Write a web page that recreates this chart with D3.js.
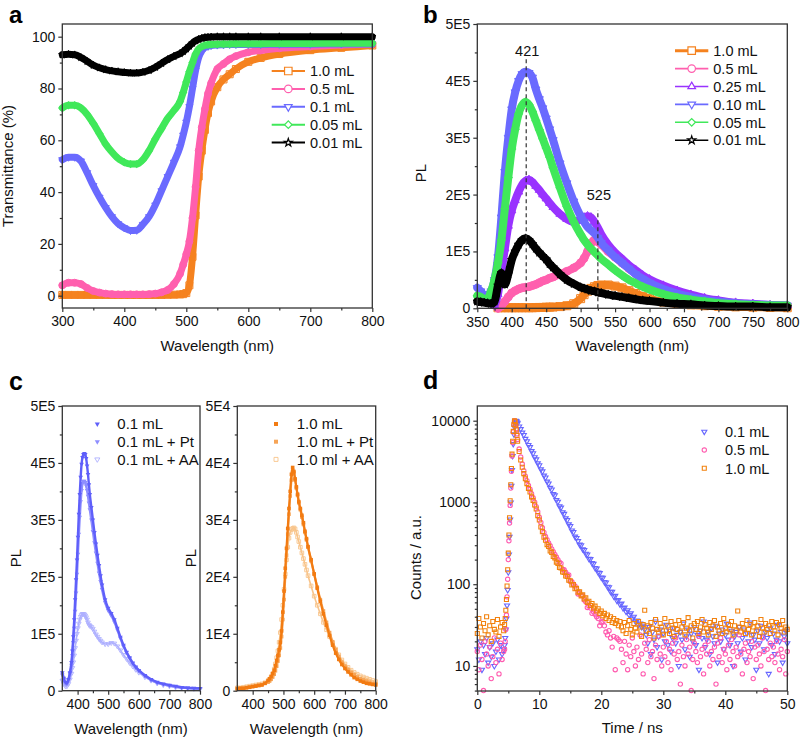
<!DOCTYPE html>
<html><head><meta charset="utf-8">
<script src="https://cdn.jsdelivr.net/npm/d3@7"></script>
<style>body{margin:0;background:#fff}</style>
</head><body>
<svg id="fig" width="800" height="738" xmlns="http://www.w3.org/2000/svg"></svg>
<script>
// ---------------- DATA ----------------
// Panel a : transmittance (%)
const aWavelength = [300,310,320,330,340,350,360,370,380,390,400,410,420,430,440,450,460,470,480,490,495,500,505,510,515,520,525,530,535,540,550,560,570,580,600,620,650,700,750,800];
const aT10  = [0.3,0.3,0.3,0.3,0.3,0.3,0.3,0.3,0.3,0.3,0.3,0.3,0.3,0.3,0.3,0.3,0.3,0.35,0.4,0.5,0.6,1,4,15,31,46,56,64,70.5,75,80.5,83.5,85.5,87.5,90.3,91.8,93.3,94.8,95.7,96.6];
const aT05  = [4,5,5,4.5,3,1.8,1.2,0.8,0.6,0.5,0.5,0.5,0.5,0.5,0.6,0.8,1.3,2.2,4.5,8.5,12,16,21,30,42,56,65,72,78,82,87.5,89.5,91.3,92.5,94,94.7,95.5,96.2,96.8,97.2];
const aT01  = [52.5,53.5,53.5,52,47.5,42.5,38,34,30.5,27.8,26.2,25.2,25.3,27.5,30.5,35,40.5,46,51.5,57.5,62,67,73,80,87,92,94.5,95.8,96.3,96.6,96.8,96.9,97,97,97,97,97.1,97.1,97.2,97.2];
const aT005 = [72.5,73.5,73.5,72.5,70,66.5,62.5,58.5,55.5,53,51.5,50.8,50.8,52.5,56,60.5,64.5,68.5,71.5,75,78.5,82.5,86.5,90,93.3,95.3,96.2,96.7,96.9,97,97.1,97.2,97.2,97.3,97.3,97.3,97.4,97.4,97.5,97.5];
const aT001 = [93,93.2,93,92,90.5,89,88,87.3,86.8,86.5,86.2,86,86,86.3,87,88.2,89.7,91.2,92.4,93.5,94.3,95.3,96.4,97.5,98.4,99,99.4,99.7,99.8,99.9,100,100,100,100,100,100,100,100,100,100];
const aNames = ["1.0 mL","0.5 mL","0.1 mL","0.05 mL","0.01 mL"];

// Panel b : PL (units of 1E5)
const bWavelength = [350,355,360,365,370,375,380,385,390,395,400,405,410,415,420,425,430,435,440,445,450,455,460,470,480,490,500,505,510,515,520,525,530,540,550,560,570,580,590,600,620,640,660,680,700,725,750,775,800];
const bPL10  = [null,null,null,null,null,null,0.01,0.01,0.01,0.01,0.01,0.01,0.01,0.01,0.01,0.01,0.01,0.012,0.015,0.015,0.02,0.02,0.022,0.03,0.045,0.08,0.17,0.24,0.3,0.35,0.38,0.4,0.41,0.41,0.39,0.36,0.31,0.26,0.21,0.17,0.11,0.08,0.06,0.045,0.035,0.025,0.02,0.015,0.01];
const bPL05  = [null,null,null,null,null,null,0.0,0.04,0.12,0.2,0.27,0.31,0.34,0.36,0.37,0.38,0.4,0.42,0.45,0.48,0.5,0.53,0.55,0.6,0.65,0.71,0.8,0.88,1.0,1.14,1.2,1.17,1.12,1.0,0.9,0.8,0.7,0.61,0.53,0.46,0.36,0.28,0.21,0.16,0.12,0.09,0.06,0.05,0.04];
const bPL025 = [null,null,null,null,null,0.05,0.25,0.65,1.05,1.45,1.72,1.9,2.05,2.17,2.24,2.26,2.22,2.15,2.08,2.0,1.93,1.85,1.78,1.66,1.57,1.52,1.56,1.6,1.62,1.6,1.52,1.42,1.3,1.12,0.98,0.87,0.76,0.67,0.58,0.51,0.4,0.31,0.24,0.18,0.14,0.1,0.08,0.06,0.05];
const bPL010 = [0.36,0.3,0.23,0.24,0.3,0.5,0.9,1.6,2.4,3.0,3.5,3.8,4.0,4.12,4.16,4.14,4.06,3.85,3.68,3.52,3.34,3.15,2.96,2.55,2.2,1.88,1.62,1.52,1.43,1.37,1.32,1.24,1.15,1.02,0.9,0.8,0.7,0.6,0.52,0.45,0.34,0.26,0.2,0.15,0.12,0.09,0.07,0.06,0.05];
const bPL005 = [0.22,0.2,0.16,0.18,0.3,0.5,0.8,1.2,1.75,2.3,2.8,3.15,3.42,3.57,3.63,3.58,3.46,3.3,3.14,2.98,2.82,2.66,2.47,2.12,1.79,1.52,1.3,1.2,1.12,1.05,0.99,0.93,0.87,0.77,0.67,0.58,0.5,0.44,0.38,0.33,0.25,0.19,0.15,0.12,0.09,0.07,0.06,0.05,0.05];
const bPL001 = [0.12,0.11,0.1,0.09,0.08,0.12,0.4,0.62,0.42,0.6,0.85,1.0,1.12,1.2,1.23,1.2,1.13,1.05,0.98,0.92,0.86,0.78,0.72,0.6,0.5,0.43,0.37,0.35,0.33,0.31,0.3,0.28,0.27,0.24,0.22,0.2,0.18,0.16,0.14,0.13,0.1,0.08,0.07,0.05,0.04,0.03,0.03,0.02,0.02];
const bNames = ["1.0 mL","0.5 mL","0.25 mL","0.10 mL","0.05 mL","0.01 mL"];
const bPeakLabels = [421, 525];

// Panel c left : PL (1E5)
const cLWavelength = [350,355,360,365,370,375,380,383,386,389,392,395,398,401,404,407,410,413,416,419,422,425,428,431,434,437,440,445,450,455,460,465,470,475,480,490,500,510,520,530,540,550,560,570,580,590,600,620,640,660,680,700,720,740,760,780,800];
const cL01   = [0.32,0.22,0.15,0.14,0.2,0.32,0.5,0.7,0.95,1.25,1.6,1.95,2.3,2.7,3.1,3.45,3.75,3.98,4.1,4.15,4.17,4.15,4.08,3.95,3.8,3.62,3.45,3.22,3.0,2.78,2.58,2.38,2.2,2.02,1.86,1.6,1.45,1.36,1.25,1.1,0.94,0.8,0.68,0.58,0.49,0.42,0.36,0.27,0.2,0.15,0.12,0.1,0.08,0.06,0.05,0.045,0.04];
const cL01Pt = [0.28,0.2,0.13,0.12,0.18,0.3,0.45,0.62,0.85,1.1,1.4,1.72,2.05,2.4,2.75,3.05,3.32,3.52,3.64,3.68,3.68,3.66,3.6,3.52,3.42,3.3,3.18,3.0,2.8,2.6,2.42,2.24,2.07,1.92,1.78,1.55,1.41,1.32,1.21,1.07,0.92,0.78,0.67,0.57,0.48,0.41,0.35,0.26,0.19,0.14,0.11,0.09,0.07,0.055,0.045,0.04,0.035];
const cL01AA = [0.18,0.12,0.08,0.08,0.12,0.2,0.3,0.4,0.5,0.62,0.75,0.88,1.0,1.1,1.18,1.25,1.3,1.33,1.35,1.35,1.34,1.32,1.29,1.25,1.2,1.16,1.14,1.12,1.09,1.04,0.99,0.95,0.91,0.88,0.85,0.82,0.82,0.84,0.83,0.78,0.71,0.63,0.56,0.49,0.43,0.37,0.32,0.24,0.18,0.13,0.1,0.08,0.06,0.05,0.04,0.035,0.03];
const cLNames = ["0.1 mL","0.1 mL + Pt","0.1 mL + AA"];

// Panel c right : PL (1E4)
const cRWavelength = [350,360,370,380,390,400,410,420,430,440,450,455,460,465,470,474,478,482,486,490,494,498,502,506,510,514,518,522,526,530,534,538,542,546,550,555,560,565,570,575,580,590,600,610,620,630,640,650,660,670,680,690,700,710,720,730,740,750,760,770,780,790,800];
const cR10   = [0.03,0.04,0.04,0.05,0.06,0.07,0.08,0.09,0.1,0.13,0.18,0.21,0.25,0.3,0.36,0.44,0.53,0.62,0.72,0.85,1.05,1.38,1.75,2.15,2.5,2.85,3.2,3.5,3.8,3.92,3.85,3.72,3.58,3.45,3.32,3.2,3.08,2.95,2.8,2.67,2.53,2.3,2.05,1.8,1.57,1.35,1.15,0.97,0.8,0.66,0.55,0.46,0.39,0.33,0.28,0.23,0.2,0.17,0.15,0.13,0.12,0.11,0.1];
const cR10Pt = [0.04,0.05,0.05,0.06,0.07,0.08,0.09,0.1,0.11,0.13,0.15,0.17,0.2,0.24,0.29,0.35,0.43,0.52,0.62,0.75,0.95,1.25,1.6,2.0,2.38,2.75,3.1,3.42,3.7,3.85,3.83,3.7,3.56,3.43,3.3,3.18,3.05,2.92,2.78,2.65,2.52,2.28,2.05,1.82,1.6,1.4,1.2,1.02,0.86,0.72,0.6,0.5,0.43,0.37,0.32,0.28,0.24,0.21,0.19,0.17,0.15,0.13,0.12];
const cR10AA = [0.05,0.05,0.06,0.07,0.08,0.09,0.1,0.11,0.12,0.14,0.17,0.2,0.24,0.3,0.38,0.47,0.58,0.7,0.85,1.02,1.25,1.5,1.78,2.05,2.3,2.52,2.68,2.78,2.83,2.85,2.86,2.84,2.78,2.7,2.62,2.52,2.42,2.32,2.22,2.12,2.02,1.84,1.66,1.5,1.35,1.2,1.07,0.95,0.84,0.73,0.63,0.54,0.47,0.41,0.36,0.32,0.29,0.26,0.24,0.22,0.2,0.18,0.16];
const cRNames = ["1.0 mL","1.0 mL + Pt","1.0 ml + AA"];

// Panel d : decay counts; time channels (ns)
const dTime = [...d3.range(0, 4.3, 0.25), ...d3.range(4.4, 6.45, 0.1), ...d3.range(6.5, 50.01, 0.25)];
const dCounts01 = [16,12,20,9,18,14,22,11,17,13,19,10,15,21,12,18,14,16,
 18,22,28,38,55,85,140,230,380,620,1000,1600,2500,3700,5200,6800,8300,9400,10000,9900,9600,
 9330,8500,7900,7150,6680,6000,5620,5050,4750,4250,4000,3580,3370,3010,2850,2540,2400,2130,2020,1800,1710,1510,1440,1270,1220,1070,1020,900,865,760,725,640,610,540,515,455,435,382,368,
 337,305,300,268,262,236,231,205,203,181,178,158,156,139,137,121,120,106,105,93,92,81,81,71,72,63,64,57,58,51,52,46,48,42,44,38,40,35,36,32,33,30,31,28,
 24,19,30,14,26,21,35,17,23,28,12,25,20,32,18,27,15,22,29,19,24,10,26,21,33,16,23,28,13,25,20,30,18,24,9,27,22,35,17,21,26,14,29,23,19,31,11,25,20,28,16,24,33,21,18,27,10,23,26,19,30,15,22,28,12,25,20,34,17,24,21,9,27,19,31,23,16,26,22,8,29,18,25,14,21,32,20,26,11,23,27,19];
const dCounts05 = [15,9,18,12,5,20,14,10,17,7,13,22,11,16,8,19,12,15,
 16,20,28,42,70,115,200,340,560,920,1500,2400,3700,5400,7300,8900,10000,9800,9000,8000,6900,
 5900,4500,3600,2950,2450,2100,1850,1620,1450,1280,1140,1010,890,770,660,570,490,430,385,350,320,295,270,250,232,215,200,186,180,152,150,140,130,130,108,107,100,95,88,76,78,73,72,64,61,52,54,51,44,46,43,40,38,31,34,35,31,26,24,27,22,17,23,9,22,21,20,
 16,11,20,14,9,18,13,22,15,10,17,12,24,14,8,19,16,11,21,13,15,7,18,12,23,14,10,17,13,20,11,16,9,19,14,22,12,15,6,18,13,10,21,14,17,5,12,19,15,11,23,13,16,8,18,14,20,10,15,12,17,6,19,13,22,11,16,14,9,18,12,21,15,10,17,13,24,14,8,16,19,11,15,13,20,7,17,12,18,14,10,22,15,5,16,12,19,13,17,11,20,14,9,16,13,21,8,15];
const dCounts10 = [25,38,30,22,33,27,40,24,31,20,35,28,26,37,23,30,34,27,
 32,38,48,65,95,150,240,400,650,1050,1650,2600,3900,5600,7400,9000,10000,9700,8800,7700,6600,
 5600,4200,3300,2700,2250,1950,1700,1480,1340,1170,1060,930,830,690,610,500,440,375,345,305,290,255,245,218,210,186,180,160,158,141,139,126,124,112,110,98,99,88,89,80,81,72,74,66,68,60,62,55,58,51,54,47,50,44,47,41,44,38,42,36,40,34,38,33,36,31,35,
 30,27,34,25,31,36,28,24,33,29,26,35,30,23,32,48,27,31,25,34,29,22,37,28,26,33,30,24,38,27,31,25,35,29,23,32,28,36,26,30,34,24,29,39,27,31,22,33,28,35,25,30,37,26,32,29,24,34,28,31,36,23,30,27,33,25,38,29,26,32,28,35,24,31,27,47,30,26,33,29,25,36,28,32,24,30,34,27,31,23,37,29,26,33,28,31,25,35,30,27,34,24,32,29,36,26,30,28];
const dNames = ["0.1 mL","0.5 mL","1.0 mL"];

// ---------------- STYLE ----------------
const FONT = '"Liberation Sans", Arial, Helvetica, sans-serif';
const AX = "#333";
const C = {orange:"#F5821F", pink:"#FF5FAE", purple:"#9933FF", blue:"#6A6AFF", green:"#40E85A", black:"#000000"};
const svg = d3.select("#fig");

const symGen = {
  square: s => d3.symbol(d3.symbolSquare, s*s)(),
  circle: s => d3.symbol(d3.symbolCircle, Math.PI*s*s/4)(),
  triUp: s => d3.symbol(d3.symbolTriangle, s*s*0.45)(),
  triDown: s => d3.symbol(d3.symbolTriangle, s*s*0.45)(),
  diamond: s => d3.symbol(d3.symbolSquare, s*s/2)(),
  star: s => d3.symbol(d3.symbolStar, s*s*0.35)()
};
const symRot = {square:0, circle:0, triUp:0, triDown:180, diamond:45, star:0};

function drawAxes(g, x, y, o) {
  const yBot = y.range()[0], yTop = y.range()[1], xL = x.range()[0], xR = x.range()[1];
  const style = sel => { sel.attr("font-size", o.fs || 14).attr("font-family", FONT);
    sel.select(".domain").remove();
    sel.selectAll(".tick line").attr("stroke", AX).attr("stroke-width", 1.2);
    sel.selectAll(".tick text").attr("fill", "#111"); };
  g.append("g").attr("transform", `translate(0,${yBot})`)
    .call(d3.axisBottom(x).tickValues(o.xMajor).tickSize(4).tickSizeOuter(0).tickPadding(4.5).tickFormat(o.xFmt || (d => d))).call(style);
  g.append("g").attr("transform", `translate(0,${yBot})`)
    .call(d3.axisBottom(x).tickValues(o.xMinor).tickSize(2.5).tickSizeOuter(0).tickFormat("")).call(style);
  g.append("g").attr("transform", `translate(${xL},0)`)
    .call(d3.axisLeft(y).tickValues(o.yMajor).tickSize(4).tickSizeOuter(0).tickPadding(3).tickFormat(o.yFmt || (d => d))).call(style);
  g.append("g").attr("transform", `translate(${xL},0)`)
    .call(d3.axisLeft(y).tickValues(o.yMinor).tickSize(2.5).tickSizeOuter(0).tickFormat("")).call(style);
  g.append("rect").attr("x", xL).attr("y", yTop).attr("width", xR - xL).attr("height", yBot - yTop)
    .attr("fill", "none").attr("stroke", AX).attr("stroke-width", 1.3);
}
function text(g, str, x, y, o = {}) {
  const t = g.append("text").attr("x", x).attr("y", y).text(str)
    .attr("font-family", FONT).attr("font-size", o.fs || 15).attr("fill", o.fill || "#111")
    .attr("text-anchor", o.anchor || "start").attr("font-weight", o.bold ? "bold" : "normal");
  if (o.rot) t.attr("transform", `rotate(${o.rot},${x},${y})`);
  return t;
}
function band(g, x, y, xs, ys, color, w) {
  const pts = xs.map((v, i) => [v, ys[i]]).filter(p => p[1] != null);
  g.append("path").datum(pts)
    .attr("d", d3.line().x(d => x(d[0])).y(d => y(d[1])).curve(d3.curveMonotoneX))
    .attr("fill", "none").attr("stroke", color).attr("stroke-width", w)
    .attr("stroke-linejoin", "round").attr("stroke-linecap", "round");
  return pts;
}
function markers(g, x, y, pts, type, size, o) {
  g.append("g").selectAll("path").data(pts).join("path")
    .attr("d", symGen[type](size))
    .attr("transform", d => `translate(${x(d[0])},${y(d[1])}) rotate(${symRot[type]})`)
    .attr("fill", o.fill || "none").attr("fill-opacity", o.fillOpacity == null ? 1 : o.fillOpacity)
    .attr("stroke", o.stroke || "none").attr("stroke-width", o.sw || 1)
    .attr("stroke-opacity", o.strokeOpacity == null ? 1 : o.strokeOpacity);
}

// ---------------- PANEL A ----------------
{
  const g = svg.append("g");
  const x = d3.scaleLinear([300, 800], [62.3, 372.3]);
  const y = d3.scaleLinear([-4.75, 104.9], [308, 24]);
  const series = [
    {v: aT10, c: C.orange, s: "square"}, {v: aT05, c: C.pink, s: "circle"},
    {v: aT01, c: C.blue, s: "triDown"}, {v: aT005, c: C.green, s: "diamond"},
    {v: aT001, c: C.black, s: "star"}];
  series.forEach(se => {
    const pts = band(g, x, y, aWavelength, se.v, se.c, 7);
    markers(g, x, y, pts, se.s, 7, {stroke: se.c, sw: 1});
  });
  drawAxes(g, x, y, {xMajor: d3.range(300, 801, 100), xMinor: d3.range(350, 800, 100),
    yMajor: d3.range(0, 101, 20), yMinor: d3.range(10, 100, 20)});
  series.forEach((se, i) => {
    const yy = 71 + i * 17.9;
    g.append("line").attr("x1", 271.7).attr("x2", 305).attr("y1", yy).attr("y2", yy)
      .attr("stroke", se.c).attr("stroke-width", 2);
    markers(g, d3.scaleIdentity(), d3.scaleIdentity(), [[288.3, yy]], se.s, 7.5, {stroke: se.c, fill: "#fff", sw: 1.2});
    text(g, aNames[i], 310, yy + 5.2, {fs: 14.5});
  });
  text(g, "Transmittance (%)", 13, 166, {rot: -90, anchor: "middle"});
  text(g, "Wavelength (nm)", 217.3, 351, {anchor: "middle"});
  text(g, "a", 9, 23, {fs: 24, bold: true, fill: "#000"});
}

// ---------------- PANEL B ----------------
{
  const g = svg.append("g");
  const x = d3.scaleLinear([350, 800], [477.3, 787.3]);
  const y = d3.scaleLinear([0, 5], [308.3, 24]);
  const series = [
    {v: bPL10, c: C.orange, s: "square"}, {v: bPL05, c: C.pink, s: "circle"},
    {v: bPL025, c: C.purple, s: "triUp"}, {v: bPL010, c: C.blue, s: "triDown"},
    {v: bPL005, c: C.green, s: "diamond"}, {v: bPL001, c: C.black, s: "star"}];
  series.forEach(se => {
    const pts = band(g, x, y, bWavelength, se.v, se.c, 8);
    markers(g, x, y, pts, se.s, 8, {stroke: se.c, sw: 1});
  });
  // dashed peak markers
  const dashTop = [4.38, 1.73], labY = [56, 200];
  bPeakLabels.forEach((p, i) => {
    g.append("line").attr("x1", x(p)).attr("x2", x(p)).attr("y1", y(0)).attr("y2", y(dashTop[i]))
      .attr("stroke", "#333").attr("stroke-width", 1.2).attr("stroke-dasharray", "4,3");
    text(g, String(p), x(p) + 1, labY[i], {fs: 14.5, anchor: "middle"});
  });
  drawAxes(g, x, y, {xMajor: d3.range(350, 801, 50), xMinor: d3.range(375, 800, 50),
    yMajor: d3.range(0, 6), yMinor: d3.range(0.5, 5, 1), yFmt: d => d === 0 ? "0" : d + "E5"});
  series.forEach((se, i) => {
    const yy = 50.7 + i * 17.9;
    g.append("line").attr("x1", 675).attr("x2", 708.3).attr("y1", yy).attr("y2", yy)
      .attr("stroke", se.c).attr("stroke-width", i === 0 ? 3 : 1.6);
    markers(g, d3.scaleIdentity(), d3.scaleIdentity(), [[691.7, yy]], se.s, 7.5, {stroke: se.c, fill: "#fff", sw: 1.2});
    text(g, bNames[i], 713.3, yy + 5.2, {fs: 14.5});
  });
  text(g, "PL", 426, 173, {rot: -90, anchor: "middle"});
  text(g, "Wavelength (nm)", 632.3, 351, {anchor: "middle"});
  text(g, "b", 423, 23, {fs: 24, bold: true, fill: "#000"});
}

// ---------------- PANEL C ----------------
{
  const g = svg.append("g");
  const xl = d3.scaleLinear([350, 800], [62.3, 200]);
  const yl = d3.scaleLinear([0, 5], [690.7, 406]);
  const xr = d3.scaleLinear([350, 800], [237.3, 375.7]);
  const yr = d3.scaleLinear([0, 5], [690.7, 406]);
  const left = [
    {v: cL01AA, c: "#AEB0FF", s: "triDown", hollow: true},
    {v: cL01Pt, c: "#8E8EFF", s: "triDown"},
    {v: cL01, c: "#5F5FFA", s: "triDown"}];
  left.forEach(se => {
    const pts = band(g, xl, yl, cLWavelength, se.v, se.c, se.hollow ? 1.6 : 2.4);
    markers(g, xl, yl, pts, se.s, 4.5, se.hollow ? {stroke: se.c, sw: 0.9} : {fill: se.c});
  });
  const right = [
    {v: cR10AA, c: "#F8C48A", s: "square", hollow: true},
    {v: cR10Pt, c: "#F6A456", s: "square"},
    {v: cR10, c: "#F27B12", s: "square"}];
  right.forEach(se => {
    const pts = band(g, xr, yr, cRWavelength, se.v, se.c, se.hollow ? 1.6 : 2.2);
    markers(g, xr, yr, pts, se.s, 3.6, se.hollow ? {stroke: se.c, sw: 0.9} : {fill: se.c});
  });
  drawAxes(g, xl, yl, {xMajor: d3.range(400, 801, 100), xMinor: d3.range(450, 800, 100),
    yMajor: d3.range(0, 6), yMinor: d3.range(0.5, 5, 1), yFmt: d => d === 0 ? "0" : d + "E5"});
  drawAxes(g, xr, yr, {xMajor: d3.range(400, 801, 100), xMinor: d3.range(450, 800, 100),
    yMajor: d3.range(0, 6), yMinor: d3.range(0.5, 5, 1), yFmt: d => d === 0 ? "0" : d + "E4"});
  const id = d3.scaleIdentity();
  left.slice().reverse().forEach((se, i) => {
    const yy = 424 + i * 17.7;
    markers(g, id, id, [[97.3, yy]], se.s, 5, se.hollow ? {stroke: se.c, sw: 0.9} : {fill: se.c});
    text(g, cLNames[i], 117.3, yy + 5.4, {fs: 15});
  });
  right.slice().reverse().forEach((se, i) => {
    const yy = 424 + i * 17.7;
    markers(g, id, id, [[276, yy]], se.s, 4, se.hollow ? {stroke: se.c, sw: 0.9} : {fill: se.c});
    text(g, cRNames[i], 296.7, yy + 5.4, {fs: 15});
  });
  text(g, "PL", 21, 558, {rot: -90, anchor: "middle"});
  text(g, "PL", 195.5, 558, {rot: -90, anchor: "middle"});
  text(g, "Wavelength (nm)", 131, 734, {anchor: "middle"});
  text(g, "Wavelength (nm)", 306.5, 734, {anchor: "middle"});
  text(g, "c", 9, 390, {fs: 25, bold: true, fill: "#000"});
}

// ---------------- PANEL D ----------------
{
  const g = svg.append("g");
  const x = d3.scaleLinear([0, 50], [477.3, 787.3]);
  const y = d3.scaleLog([4.94, 15130], [691, 406]);
  const series = [
    {v: dCounts01, c: "#6666FF", s: "triDown", z: 5},
    {v: dCounts05, c: "#FF5AAE", s: "circle", z: 4.3},
    {v: dCounts10, c: "#F2820F", s: "square", z: 4}];
  series.forEach(se => {
    const pts = se.v.map((v, i) => [dTime[i], v]).filter(p => p[0] != null && p[0] <= 50);
    markers(g, x, y, pts, se.s, se.z, {stroke: se.c, sw: 1.1});
  });
  const minor = y.ticks().filter(t => ![10, 100, 1000, 10000].includes(t));
  drawAxes(g, x, y, {xMajor: d3.range(0, 51, 10), xMinor: d3.range(5, 50, 10),
    yMajor: [10, 100, 1000, 10000], yMinor: minor, yFmt: d => String(d)});
  const id = d3.scaleIdentity();
  series.forEach((se, i) => {
    const yy = 431.7 + i * 18.3;
    markers(g, id, id, [[704.3, yy]], se.s, se.z, {stroke: se.c, sw: 1.1});
    text(g, dNames[i], 725, yy + 5.2, {fs: 14.5});
  });
  text(g, "Counts / a.u.", 421, 557.5, {rot: -90, anchor: "middle"});
  text(g, "Time / ns", 632.3, 733, {anchor: "middle"});
  text(g, "d", 423, 389, {fs: 25, bold: true, fill: "#000"});
}
</script>
</body></html>
